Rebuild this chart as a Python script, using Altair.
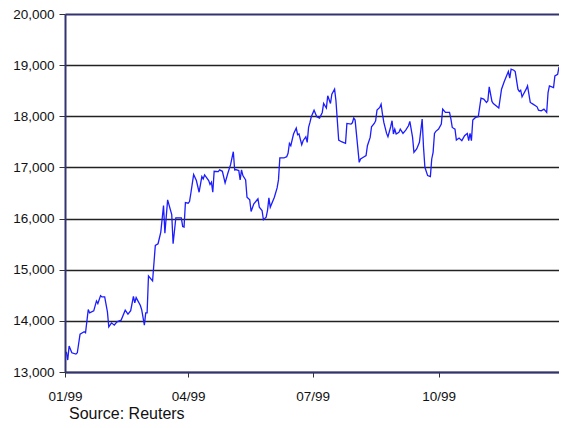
import altair as alt
import pandas as pd

# Day offsets from 1 Jan 1999 and index values
days = [1, 2, 3, 5, 8, 9, 11, 14, 15, 17, 18, 21, 23, 24, 26, 27, 29, 31, 32, 34,
        36, 38, 41, 44, 46, 48, 50, 51, 52, 55, 56, 58, 59, 60, 61, 64, 66, 68, 70, 72,
        73, 75, 78, 79, 81, 85, 86, 87, 88, 90, 91, 92, 94, 96, 98, 100, 101, 102, 105, 106,
        107, 108, 109, 112, 113, 115, 117, 119, 121, 123, 124, 125, 127, 128, 129, 130, 132, 133, 135, 136,
        138, 140, 141, 142, 144, 145, 147, 148, 149, 150, 153, 155, 156, 157, 160, 162, 163, 164, 165, 167,
        169, 170, 171, 173, 174, 176, 177, 178, 179, 180, 182, 184, 186, 188, 189, 191, 192, 194, 195, 197,
        198, 200, 202, 205, 206, 209, 210, 211, 212, 215, 216, 218, 220, 221, 223, 224, 226, 227, 228, 230,
        231, 232, 233, 235, 236, 238, 239, 240, 241, 242, 244, 245, 247, 249, 251, 252, 254, 255, 257, 259,
        261, 262, 263, 265, 267, 268, 269, 270, 271, 273, 275, 276, 278, 281, 282, 283, 285, 286, 288, 290,
        292, 294, 295, 296, 297, 298, 300, 302, 304, 306, 308, 309, 310, 312, 313, 315, 317, 319, 321, 323,
        324, 325, 326, 328, 329, 331, 332, 333, 334, 335, 337, 338, 340, 342, 345, 346, 348, 350, 352, 353,
        354, 357, 358, 360, 361]

values = [13396, 13234, 13507, 13376, 13350, 13376, 13740, 13786, 13766, 14222, 14156, 14195, 14390, 14338, 14494, 14468, 14468, 14175, 13883, 13961,
          13916, 13980, 14014, 14209, 14130, 14200, 14481, 14351, 14455, 14306, 14222, 13916, 14156, 14156, 14877, 14780, 15476, 15508, 15735, 16255,
          15716, 16365, 16080, 15508, 16015, 16015, 15846, 15833, 16314, 16300, 16333, 16500, 16860, 16743, 16515, 16821, 16776, 16854, 16743, 16665,
          16710, 16515, 16924, 16918, 16951, 16924, 16697, 16885, 17054, 17308, 16951, 16957, 16938, 16756, 16951, 16840, 16756, 16417, 16366, 16138,
          16288, 16353, 16386, 16222, 16158, 15977, 16027, 16158, 16405, 16222, 16417, 16600, 16756, 17185, 17185, 17210, 17275, 17470, 17425, 17653,
          17770, 17640, 17653, 17445, 17523, 17600, 17490, 17782, 17880, 17990, 18120, 17990, 17965, 18075, 18250, 18160, 18400, 18250, 18432, 18530,
          18303, 17535, 17503, 17470, 17860, 17847, 17873, 17965, 17926, 17100, 17165, 17198, 17230, 17425, 17587, 17796, 17860, 17913, 18120, 18172,
          18237, 18042, 17880, 17665, 17600, 17796, 17913, 17653, 17750, 17653, 17685, 17750, 17665, 17730, 17815, 17900, 17587, 17295, 17360, 17490,
          17945, 17393, 17003, 16840, 16820, 17165, 17295, 17665, 17705, 17750, 17847, 18140, 18075, 18075, 17950, 17782, 17750, 17535, 17575, 17523,
          17620, 17665, 17523, 17665, 17523, 17926, 17978, 17990, 18354, 18335, 18270, 18303, 18576, 18290, 18250, 18205, 18160, 18530, 18680, 18810,
          18875, 18745, 18920, 18900, 18875, 18530, 18484, 18510, 18380, 18432, 18530, 18595, 18270, 18237, 18185, 18120, 18107, 18140, 18075, 18465,
          18595, 18562, 18790, 18822, 18965]

tick_dates = ["1999-01-01", "1999-04-01", "1999-07-01", "1999-10-01"]
y_ticks = [13000, 14000, 15000, 16000, 17000, 18000, 19000, 20000]

dates = pd.Timestamp("1999-01-01") + pd.to_timedelta(days, unit="D")
df = pd.DataFrame({"date": dates.strftime("%Y-%m-%dT00:00:00"), "value": values, "i": range(len(values))})

navy = "#333371"
x_domain = [alt.DateTime(year=1999, month=1, date=1), alt.DateTime(year=1999, month=12, date=28)]
x_vals = [alt.DateTime(year=int(d[:4]), month=int(d[5:7]), date=int(d[8:])) for d in tick_dates]

grid_color = {"condition": {"test": "datum.value == 20000", "value": navy}, "value": "#222"}
grid_width = {"condition": {"test": "datum.value == 20000", "value": 2}, "value": 1.4}

chart = alt.Chart(df).mark_line(color="#1c1cff", strokeWidth=1.3).encode(
    x=alt.X("date:T", scale=alt.Scale(domain=x_domain), title=None,
            axis=alt.Axis(values=x_vals, format="%m/%y", grid=False, domainColor=navy, domainWidth=2,
                          tickColor="#333", tickSize=5, labelPadding=12, labelFontSize=13.5,
                          labelFont="Liberation Sans", labelColor="#111", labelFlush=False)),
    y=alt.Y("value:Q", scale=alt.Scale(domain=[13000, 20000], nice=False, zero=False), title=None,
            axis=alt.Axis(values=y_ticks, format=",d", grid=True, gridColor=grid_color, gridWidth=grid_width,
                          domainColor=navy, domainWidth=2, tickColor="#333", tickSize=6, labelPadding=5,
                          labelFontSize=13.5, labelFont="Liberation Sans", labelColor="#111")),
    order="i:Q",
).properties(
    width=494, height=358,
    autosize=alt.AutoSizeParams(type="none"),
    padding={"left": 57, "top": 6, "right": 0, "bottom": 56},
    title=alt.TitleParams("Source: Reuters", orient="bottom", anchor="start", frame="group",
                          dx=4, offset=3, font="Liberation Sans", fontSize=16, fontWeight="normal",
                          color="#111"),
).configure_view(stroke="#9999ff", strokeWidth=1).configure(background="white")

chart.save("out.html", embed_options={"renderer": "svg", "actions": False})
